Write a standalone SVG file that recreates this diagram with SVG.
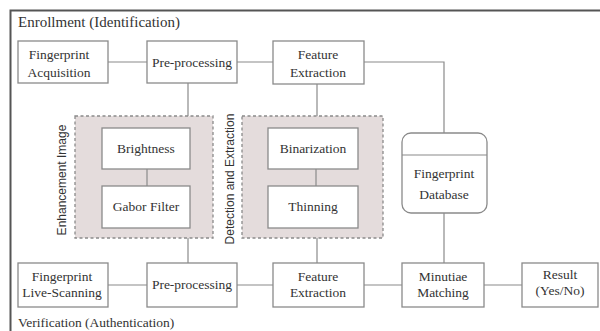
<svg xmlns="http://www.w3.org/2000/svg" width="600" height="331" viewBox="0 0 600 331">
<defs>
<style>
.box{fill:#fff;stroke:#8a8a8a;stroke-width:1.3}
.grp{fill:#e4dcdc;stroke:#8a8a8a;stroke-width:1.3;stroke-dasharray:3 2.5}
.lbl{font-family:'Liberation Serif','Times New Roman',serif;font-size:13.5px;fill:#333;text-anchor:middle}
.ttl{font-family:'Liberation Serif','Times New Roman',serif;fill:#333}
.vt{font-family:'Liberation Sans',Arial,sans-serif;font-size:12px;fill:#333;text-anchor:middle}
.conn line,.conn polyline{stroke:#8a8a8a;stroke-width:1.2;fill:none}
</style>
</defs>
<rect width="600" height="331" fill="#fff"/>
<path d="M10.5 331 V10.5 H600" fill="none" stroke="#555" stroke-width="2"/>
<text class="ttl" x="18" y="27" font-size="15">Enrollment (Identification)</text>
<text class="ttl" x="18" y="327" font-size="13.5">Verification (Authentication)</text>

<g class="conn">
<line x1="108" y1="62" x2="147" y2="62"/>
<line x1="237" y1="62" x2="273" y2="62"/>
<polyline points="364,62 444,62 444,133"/>
<line x1="188" y1="83" x2="188" y2="116"/>
<line x1="188" y1="238" x2="188" y2="263"/>
<line x1="317" y1="84" x2="317" y2="116"/>
<line x1="317" y1="238" x2="317" y2="263"/>
<line x1="444" y1="213" x2="444" y2="263"/>
<line x1="108" y1="285" x2="147" y2="285"/>
<line x1="237" y1="285" x2="273" y2="285"/>
<line x1="364" y1="285" x2="402" y2="285"/>
<line x1="484" y1="285" x2="522" y2="285"/>
</g>

<g id="enhancement">
<rect class="grp" x="75" y="116" width="138" height="122"/>
<text class="vt" transform="translate(66 180) rotate(-90)">Enhancement Image</text>
<g class="conn"><line x1="147" y1="169" x2="147" y2="186"/></g>
<g id="brightness">
<rect class="box" x="102" y="128" width="88" height="41"/>
<text class="lbl" x="146" y="153">Brightness</text>
</g>
<g id="gabor">
<rect class="box" x="102" y="186" width="88" height="42"/>
<text class="lbl" x="146" y="211">Gabor Filter</text>
</g>
</g>

<g id="detection">
<rect class="grp" x="242" y="116" width="141" height="122"/>
<text class="vt" transform="translate(234 179) rotate(-90)">Detection and Extraction</text>
<g class="conn"><line x1="316" y1="169" x2="316" y2="186"/></g>
<g id="binarization">
<rect class="box" x="268" y="128" width="90" height="41"/>
<text class="lbl" x="313" y="153">Binarization</text>
</g>
<g id="thinning">
<rect class="box" x="268" y="186" width="90" height="42"/>
<text class="lbl" x="313" y="211">Thinning</text>
</g>
</g>

<g id="acquisition">
<rect class="box" x="18" y="41" width="90" height="42"/>
<text class="lbl" x="59" y="59">Fingerprint</text>
<text class="lbl" x="59" y="77">Acquisition</text>
</g>
<g id="preproc1">
<rect class="box" x="147" y="41" width="90" height="42"/>
<text class="lbl" x="192" y="67">Pre-processing</text>
</g>
<g id="feature1">
<rect class="box" x="273" y="41" width="91" height="43"/>
<text class="lbl" x="318" y="59">Feature</text>
<text class="lbl" x="318" y="77">Extraction</text>
</g>
<g id="database">
<rect class="box" x="402" y="133" width="85" height="80" rx="9"/>
<line x1="402" y1="155" x2="487" y2="155" stroke="#8a8a8a" stroke-width="1.2"/>
<text class="lbl" x="444" y="178">Fingerprint</text>
<text class="lbl" x="444" y="199">Database</text>
</g>
<g id="livescan">
<rect class="box" x="18" y="263" width="90" height="44"/>
<text class="lbl" x="62" y="281">Fingerprint</text>
<text class="lbl" x="62" y="297">Live-Scanning</text>
</g>
<g id="preproc2">
<rect class="box" x="147" y="263" width="90" height="44"/>
<text class="lbl" x="192" y="289">Pre-processing</text>
</g>
<g id="feature2">
<rect class="box" x="273" y="263" width="91" height="44"/>
<text class="lbl" x="318" y="281">Feature</text>
<text class="lbl" x="318" y="297">Extraction</text>
</g>
<g id="matching">
<rect class="box" x="402" y="263" width="82" height="44"/>
<text class="lbl" x="443" y="281">Minutiae</text>
<text class="lbl" x="443" y="297">Matching</text>
</g>
<g id="result">
<rect class="box" x="522" y="263" width="76" height="44"/>
<text class="lbl" x="560" y="279">Result</text>
<text class="lbl" x="560" y="295">(Yes/No)</text>
</g>
</svg>
